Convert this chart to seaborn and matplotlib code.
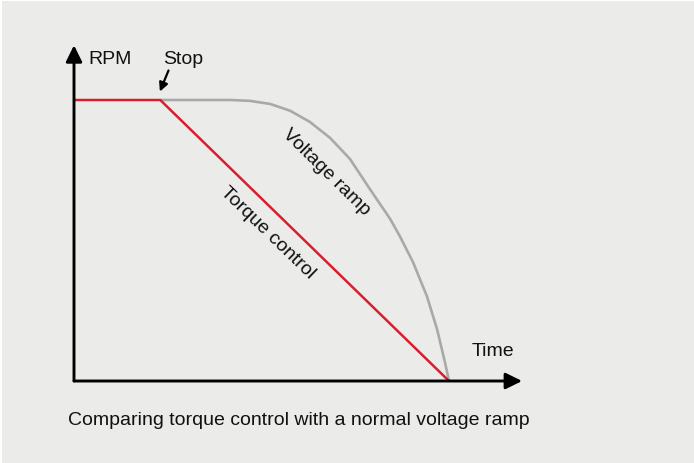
import seaborn as sns
from matplotlib import pyplot as plt
from matplotlib.patches import Rectangle
import pandas as pd

# Data (time in arbitrary units, RPM in % of full speed)
torque_time = [0, 2.3, 10]
torque_rpm = [100, 100, 0]

voltage_time = [2.3, 4.16, 4.69, 5.23, 5.76, 6.29, 6.83, 7.36, 7.89, 8.43,
                8.69, 9.04, 9.41, 9.68, 9.89, 10.0]
voltage_rpm = [100, 100, 99.7, 98.6, 96.2, 92.2, 86.5, 79.0, 68.3, 57.7,
               51.5, 42.3, 30.2, 18.5, 6.8, 0]

caption = "Comparing torque control with a normal voltage ramp"

bg = "#EBECEA"
red = "#D81E2C"
grey = "#A9A9A9"
ink = "#111111"

sns.set_style("white")
plt.rcParams['font.family'] = ['Liberation Sans', 'DejaVu Sans']
plt.rcParams['text.color'] = ink

fig = plt.figure(figsize=(6.94, 4.64), dpi=100)
fig.patch.set_facecolor("white")
fig.patches.append(Rectangle((2 / 694, 0), 1, 1 - 2 / 464, transform=fig.transFigure,
                             facecolor=bg, edgecolor="none", zorder=-10))

ax = fig.add_axes([74 / 694, 82 / 464, 468.75 / 694, 337.2 / 464])
ax.set_facecolor("none")
ax.set_zorder(1)

df_v = pd.DataFrame({"t": voltage_time, "rpm": voltage_rpm})
df_t = pd.DataFrame({"t": torque_time, "rpm": torque_rpm})
sns.lineplot(data=df_v, x="t", y="rpm", ax=ax, color=grey, lw=1.9, sort=False,
             zorder=2, solid_joinstyle="round")
sns.lineplot(data=df_t, x="t", y="rpm", ax=ax, color=red, lw=1.8, sort=False, zorder=3)

ax.set_xlim(0, 12.5)
ax.set_ylim(0, 120)
ax.set_xticks([])
ax.set_yticks([])
ax.set_xlabel("")
ax.set_ylabel("")
for s in ax.spines.values():
    s.set_visible(False)

# axes drawn as arrows
arrow = dict(arrowstyle="-|>,head_length=0.55,head_width=0.27", color="black",
             lw=2.1, mutation_scale=18, shrinkA=0, shrinkB=0)
ax.annotate("", xy=(11.95, 0), xytext=(0, 0), arrowprops=arrow, zorder=4)
ax.annotate("", xy=(0, 119.5), xytext=(0, 0), arrowprops=arrow, zorder=4)

fs = 14
ax.text(0.37, 114.6, "RPM", fontsize=fs, ha="left", va="center")
ax.text(2.38, 114.6, "Stop", fontsize=fs, ha="left", va="center")
ax.text(10.6, 10.7, "Time", fontsize=fs, ha="left", va="center")

ax.annotate("", xy=(2.29, 103.0), xytext=(2.52, 110.5),
            arrowprops=dict(arrowstyle="-|>", color="black", lw=1.6,
                            mutation_scale=13, shrinkA=0, shrinkB=0))

ax.text(6.72, 74.7, "Voltage ramp", fontsize=fs, rotation=-44.5,
        rotation_mode="anchor", ha="center", va="center")
ax.text(5.17, 53.0, "Torque control", fontsize=fs, rotation=-44,
        rotation_mode="anchor", ha="center", va="center")

fig.text(68 / 694, 1 - 421 / 464, caption, fontsize=fs, ha="left", va="center")

plt.savefig("out.png", dpi=100, facecolor=fig.get_facecolor())
